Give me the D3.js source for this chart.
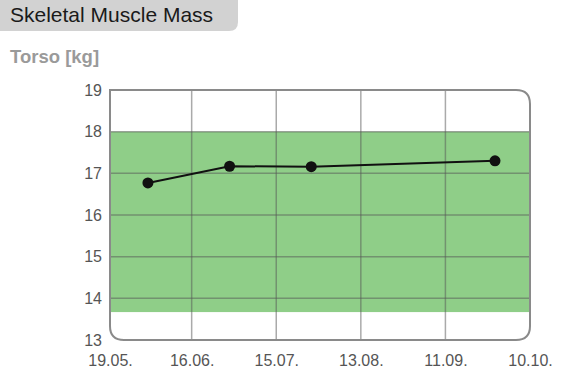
<!DOCTYPE html>
<html><head><meta charset="utf-8">
<script src="https://cdn.jsdelivr.net/npm/d3@7"></script>
<style>body{margin:0;background:#fff;font-family:"Liberation Sans",Arial,sans-serif}</style>
</head><body>
<script>
const title = "Skeletal Muscle Mass";
const subtitle = "Torso [kg]";
const dates = ["2020-06-01","2020-06-29","2020-07-27","2020-09-28"];
const values = [16.77, 17.17, 17.16, 17.30];
const xTickDates = ["2020-05-19","2020-06-16","2020-07-15","2020-08-13","2020-09-11","2020-10-10"];
const yTicks = [13,14,15,16,17,18,19];
const yDomain = [13,19];
const normalRange = [13.67, 18];

const W=582,H=384;
const svg=d3.select("body").append("svg").attr("width",W).attr("height",H);
const parse=d3.timeParse("%Y-%m-%d");
const fmt=d3.timeFormat("%d.%m.");
const m={l:110,r:52,t:90,b:44};
const x=d3.scaleTime().domain([parse(xTickDates[0]),parse(xTickDates[xTickDates.length-1])]).range([m.l,W-m.r]);
const y=d3.scaleLinear().domain(yDomain).range([H-m.b,m.t]);

// title tab
const tw=238,th=31,tr=9;
svg.append("path").attr("d",`M0,0H${tw}V${th-tr}Q${tw},${th} ${tw-tr},${th}H0Z`).attr("fill","#d2d2d2");
svg.append("text").attr("x",10).attr("y",22).attr("font-size",21).attr("fill","#1a1a1a").text(title);
svg.append("text").attr("x",10).attr("y",63).attr("font-size",18.5).attr("font-weight","bold").attr("fill","#9a9a9a").text(subtitle);

// band
svg.append("rect").attr("x",x.range()[0]).attr("width",x.range()[1]-x.range()[0])
 .attr("y",y(normalRange[1])).attr("height",y(normalRange[0])-y(normalRange[1])).attr("fill","#8fce88");

// grid
const g=svg.append("g");
g.selectAll(".hg").data(yTicks.slice(1,-1)).join("line").attr("x1",x.range()[0]).attr("x2",x.range()[1])
 .attr("y1",d=>y(d)).attr("y2",d=>y(d)).attr("stroke","#555").attr("stroke-opacity",0.5).attr("stroke-width",1.5);
g.selectAll(".vg").data(xTickDates.slice(1,-1).map(parse)).join("line").attr("x1",d=>x(d)).attr("x2",d=>x(d))
 .attr("y1",y.range()[1]).attr("y2",y.range()[0]).attr("stroke","#555").attr("stroke-opacity",0.5).attr("stroke-width",1.5);

// frame
const L=x.range()[0],R=x.range()[1],T=y.range()[1],B=y.range()[0],cr=14;
svg.append("path").attr("d",`M${L},${T}H${R-cr}Q${R},${T} ${R},${T+cr}V${B-cr}Q${R},${B} ${R-cr},${B}H${L+cr}Q${L},${B} ${L},${B-cr}Z`)
 .attr("fill","none").attr("stroke","#8a8a8a").attr("stroke-width",2);

// axes labels
const yAxis=d3.axisLeft(y).tickValues(yTicks).tickSize(0).tickPadding(8).tickFormat(d3.format("d"));
const ya=svg.append("g").attr("transform",`translate(${L},0)`).call(yAxis);
ya.select(".domain").remove();
ya.selectAll("text").attr("font-size",16).attr("fill","#555").attr("font-family","Liberation Sans, Arial, sans-serif");
const xAxis=d3.axisBottom(x).tickValues(xTickDates.map(parse)).tickSize(0).tickPadding(15).tickFormat(fmt);
const xa=svg.append("g").attr("transform",`translate(0,${B})`).call(xAxis);
xa.select(".domain").remove();
xa.selectAll("text").attr("font-size",16).attr("fill","#555").attr("font-family","Liberation Sans, Arial, sans-serif");

// line
const data=dates.map((d,i)=>({d:parse(d),v:values[i]}));
svg.append("path").datum(data).attr("d",d3.line().x(d=>x(d.d)).y(d=>y(d.v))).attr("fill","none").attr("stroke","#111").attr("stroke-width",2);
svg.selectAll(".pt").data(data).join("circle").attr("cx",d=>x(d.d)).attr("cy",d=>y(d.v)).attr("r",5.5).attr("fill","#111");
</script>
</body></html>
